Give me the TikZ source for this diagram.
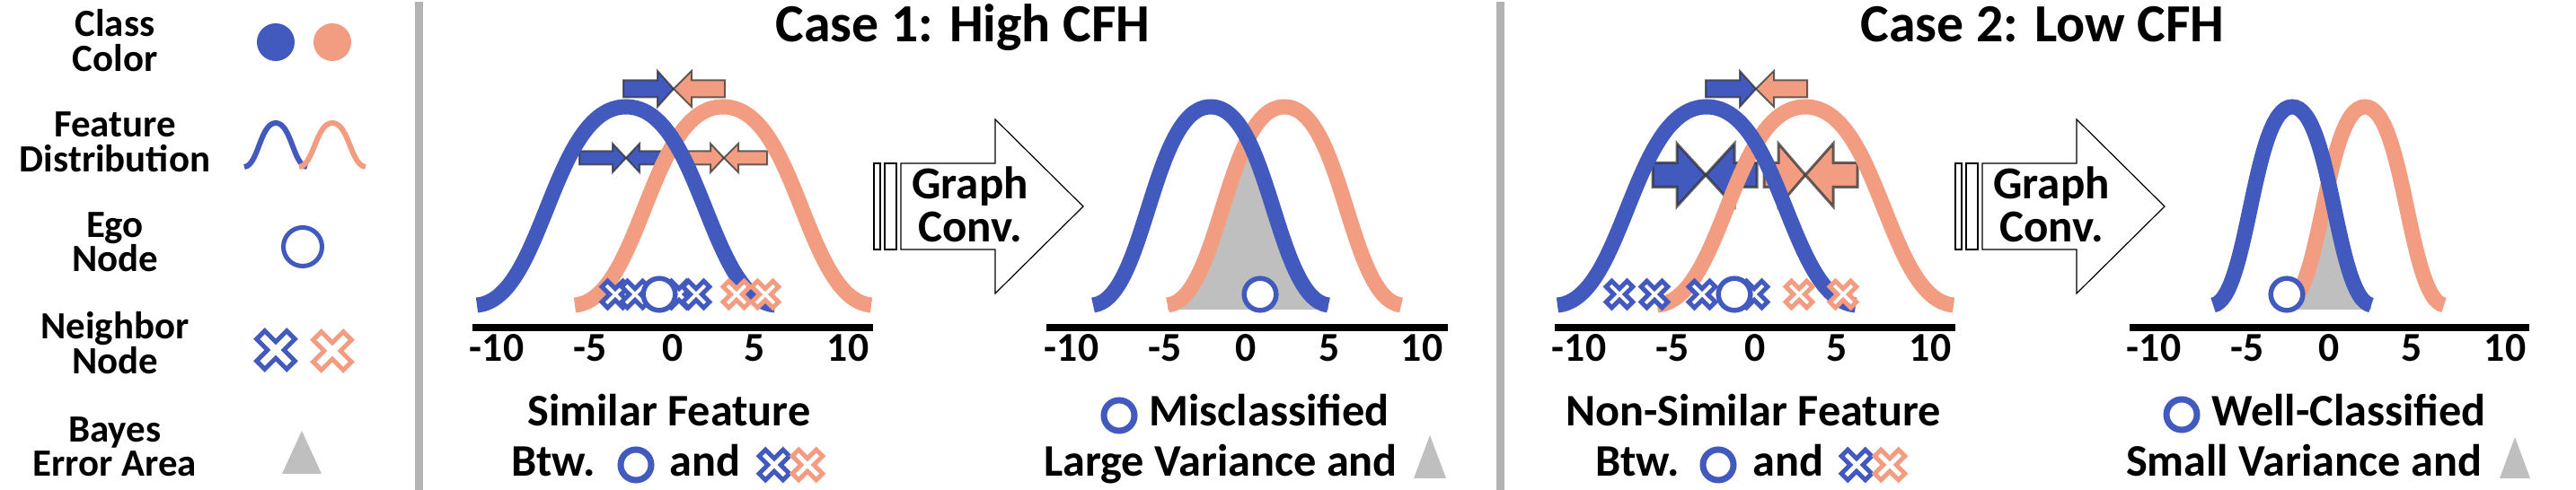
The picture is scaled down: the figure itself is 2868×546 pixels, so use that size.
\documentclass[tikz,border=0pt]{standalone}
\usepackage{fontspec}
\setmainfont{Carlito}
\definecolor{cblue}{HTML}{4259BD}
\definecolor{csal}{HTML}{F29D81}
\definecolor{cgray}{HTML}{BFBFBF}
\definecolor{csep}{HTML}{B3B3B3}
\newcommand{\bellpath}[4]{({#1-#3},#2) .. controls ({#1-0.55*#3},{#2-0.03*#4}) and ({#1-0.5*#3},{#2-#4}) .. (#1,{#2-#4}) .. controls ({#1+0.5*#3},{#2-#4}) and ({#1+0.55*#3},{#2-0.03*#4}) .. ({#1+#3},#2)}
\newcommand{\barrow}[8]{\filldraw[barr, line width=#8, fill=#7] (#1,{#4-#5}) -- (#2,{#4-#5}) -- (#2,{#4-#6}) -- (#3,#4) -- (#2,{#4+#6}) -- (#2,{#4+#5}) -- (#1,{#4+#5}) -- cycle;}
\newcommand{\xmk}[4]{\begin{scope}[shift={(#1,#2)},rotate=45]
 \pgfmathsetmacro\xmka{0.27*#3}
 \filldraw[xmst, draw=#4] (\xmka,\xmka) -- (#3,\xmka) -- (#3,-\xmka) -- (\xmka,-\xmka) -- (\xmka,-#3) -- (-\xmka,-#3) -- (-\xmka,-\xmka) -- (-#3,-\xmka) -- (-#3,\xmka) -- (-\xmka,\xmka) -- (-\xmka,#3) -- (\xmka,#3) -- cycle;
 \end{scope}}
\newcommand{\bayestri}[4]{\fill[cgray] (#1,#2) -- (#4,#3) -- ({2*#1-#4},#3) -- cycle;}
\tikzset{
 lg/.style={font=\fontsize{12.2pt}{12pt}\selectfont\bfseries, anchor=base, inner sep=0pt},
 ttl/.style={font=\fontsize{17pt}{17pt}\selectfont\bfseries, anchor=base, inner sep=0pt},
 tk/.style={font=\fontsize{13pt}{13pt}\selectfont\bfseries, anchor=base, inner sep=0pt},
 bt/.style={font=\fontsize{14.3pt}{14pt}\selectfont\bfseries, anchor=base, inner sep=0pt},
 gc/.style={font=\fontsize{14.5pt}{14pt}\selectfont\bfseries, anchor=base, inner sep=0pt},
 curve/.style={line width=1.7mm, line cap=butt},
 lgcurve/.style={line width=0.6mm, line cap=butt},
 axisline/.style={line width=0.8mm, black},
 barr/.style={draw=black!80, draw opacity=0.75, line join=miter},
 xmst/.style={line width=0.5mm, fill=white, line join=miter},
 ego/.style={draw=cblue, fill=white, line width=0.55mm},
 txtego/.style={draw=cblue, fill=white, line width=0.7mm},
 gconv/.style={draw=black, line width=0.12mm, fill=white},
 sep/.style={draw=csep, line width=0.9mm}
}
\begin{document}
\begin{tikzpicture}[x=0.01cm, y=-0.01cm]
\useasboundingbox (0,0) rectangle (2868,546);
% separators
\draw[sep] (466,2) -- (466,546);
\draw[sep] (1670,2) -- (1670,546);
% ---------------- legend ----------------
\node[lg] (l1a) at (128,41) {Class};
\node[lg] (l1b) at (128,80) {Color};
\fill[cblue] (307,47) circle (2.1mm);
\fill[csal] (370,47) circle (2.1mm);
\node[lg] (l2a) at (128,153) {Feature};
\node[lg] (l2b) at (128,192) {Distribution};
\draw[lgcurve, cblue] \bellpath{307}{186}{35}{49};
\draw[lgcurve, csal] \bellpath{370}{186}{37}{49};
\node[lg] (l3a) at (128,265) {Ego};
\node[lg] (l3b) at (128,303) {Node};
\draw[ego, line width=0.5mm] (337,275) circle (2.15mm);
\node[lg] (l4a) at (128,378) {Neighbor};
\node[lg] (l4b) at (128,417) {Node};
\xmk{307}{390}{23.7}{cblue}
\xmk{370}{391}{23.7}{csal}
\node[lg] (l5a) at (128,493) {Bayes};
\node[lg] (l5b) at (128,531) {Error Area};
\bayestri{336}{480}{528}{358}
% ---------------- Case 1 ----------------
\node[ttl] (t1) at (1072,47) {Case 1: High CFH};
% left plot
\draw[axisline] (526,365) -- (972,365);
\node[tk] at (553,403) {-10};
\node[tk] at (657,403) {-5};
\node[tk] at (749,403) {0};
\node[tk] at (840,403) {5};
\node[tk] at (944,403) {10};
\barrow{694}{732}{750}{99}{9.5}{20}{cblue}{0.2mm}
\barrow{807}{770}{750}{99}{9.5}{20}{csal}{0.2mm}
\barrow{645}{682}{697}{176}{7.5}{16}{cblue}{0.2mm}
\barrow{740}{712}{697}{176}{7.5}{16}{cblue}{0.2mm}
\barrow{762}{791}{806}{176}{7.5}{16}{csal}{0.2mm}
\barrow{854}{822}{806}{176}{7.5}{16}{csal}{0.2mm}
\draw[curve, csal] \bellpath{805}{340}{165}{221};
\draw[curve, cblue] \bellpath{697}{340}{166}{221};
\xmk{685}{328}{16.5}{cblue}
\xmk{707}{328}{16.5}{cblue}
\xmk{756}{328}{16.5}{cblue}
\xmk{775}{328}{16.5}{cblue}
\xmk{820}{328}{16.5}{csal}
\xmk{852}{328}{16.5}{csal}
\draw[ego] (734,328) circle (1.78mm);
\node[bt] (b1a) at (745,475) {Similar Feature};
\node[bt] (b1b) at (616,531) {Btw.};
\draw[txtego] (708,518) circle (1.7mm);
\node[bt] (b1c) at (785,531) {and};
\xmk{862}{518}{18.8}{cblue}
\xmk{899}{518}{18.8}{csal}
% graph conv 1
\draw[gconv] (973,182) rectangle (980,278);
\draw[gconv] (985,182) rectangle (998,278);
\draw[gconv] (1003,182) -- (1108,182) -- (1108,133) -- (1206,230) -- (1108,327) -- (1108,278) -- (1003,278) -- cycle;
\node[gc] (g1a) at (1080,222) {Graph};
\node[gc] (g1b) at (1080,270) {Conv.};
% right plot
\draw[axisline] (1165,365) -- (1612,365);
\node[tk] at (1193,403) {-10};
\node[tk] at (1297,403) {-5};
\node[tk] at (1387,403) {0};
\node[tk] at (1480,403) {5};
\node[tk] at (1583,403) {10};
\begin{scope}
\clip \bellpath{1348}{340}{131}{221} -- (1479,345) -- (1217,345) -- cycle;
\fill[cgray] \bellpath{1430}{340}{130}{221} -- (1560,345) -- (1300,345) -- cycle;
\end{scope}
\draw[curve, csal] \bellpath{1430}{340}{130}{221};
\draw[curve, cblue] \bellpath{1348}{340}{131}{221};
\draw[ego] (1403,328) circle (1.78mm);
\draw[txtego] (1246,463) circle (1.7mm);
\node[bt] (r1a) at (1413,475) {Misclassified};
\node[bt] (r1b) at (1359,531) {Large Variance and};
\bayestri{1592}{485}{533}{1610}
% ---------------- Case 2 ----------------
\node[ttl] (t2) at (2274,47) {Case 2: Low CFH};
\draw[axisline] (1731,365) -- (2177,365);
\node[tk] at (1758,403) {-10};
\node[tk] at (1862,403) {-5};
\node[tk] at (1954,403) {0};
\node[tk] at (2045,403) {5};
\node[tk] at (2149,403) {10};
\barrow{1899}{1937}{1955}{99}{9.5}{20}{cblue}{0.2mm}
\barrow{2012}{1975}{1955}{99}{9.5}{20}{csal}{0.2mm}
\barrow{1840}{1867}{1899}{195}{13.5}{35}{cblue}{0.3mm}
\barrow{1956}{1931}{1899}{195}{13.5}{35}{cblue}{0.3mm}
\barrow{1964}{1980}{2010}{195}{13.5}{35}{csal}{0.3mm}
\barrow{2068}{2041}{2010}{195}{13.5}{35}{csal}{0.3mm}
\draw[curve, csal] \bellpath{2010}{340}{165}{221};
\draw[curve, cblue] \bellpath{1900}{340}{166}{221};
\xmk{1803}{328}{16.5}{cblue}
\xmk{1842}{328}{16.5}{cblue}
\xmk{1895}{328}{16.5}{cblue}
\xmk{1953}{328}{16.5}{cblue}
\xmk{2003}{328}{16.5}{csal}
\xmk{2052}{328}{16.5}{csal}
\draw[ego] (1931,328) circle (1.78mm);
\node[bt] (b2a) at (1952,475) {Non-Similar Feature};
\node[bt] (b2b) at (1823,531) {Btw.};
\draw[txtego] (1913,518) circle (1.7mm);
\node[bt] (b2c) at (1991,531) {and};
\xmk{2067}{518}{18.8}{cblue}
\xmk{2104}{518}{18.8}{csal}
% graph conv 2
\draw[gconv] (2177,182) rectangle (2184,278);
\draw[gconv] (2189,182) rectangle (2202,278);
\draw[gconv] (2207,182) -- (2312,182) -- (2312,133) -- (2410,230) -- (2312,327) -- (2312,278) -- (2207,278) -- cycle;
\node[gc] (g2a) at (2284,222) {Graph};
\node[gc] (g2b) at (2284,270) {Conv.};
% right plot 2
\draw[axisline] (2371,365) -- (2816,365);
\node[tk] at (2398,403) {-10};
\node[tk] at (2502,403) {-5};
\node[tk] at (2593,403) {0};
\node[tk] at (2685,403) {5};
\node[tk] at (2789,403) {10};
\begin{scope}
\clip \bellpath{2552}{340}{88}{221} -- (2640,345) -- (2464,345) -- cycle;
\fill[cgray] \bellpath{2633}{340}{88}{221} -- (2721,345) -- (2545,345) -- cycle;
\end{scope}
\draw[curve, csal] \bellpath{2633}{340}{88}{221};
\draw[curve, cblue] \bellpath{2552}{340}{88}{221};
\draw[ego] (2546,328) circle (1.78mm);
\draw[txtego] (2429,462) circle (1.7mm);
\node[bt] (r2a) at (2615,475) {Well-Classified};
\node[bt] (r2b) at (2565,531) {Small Variance and};
\bayestri{2800}{487}{533}{2817}
\end{tikzpicture}
\end{document}
